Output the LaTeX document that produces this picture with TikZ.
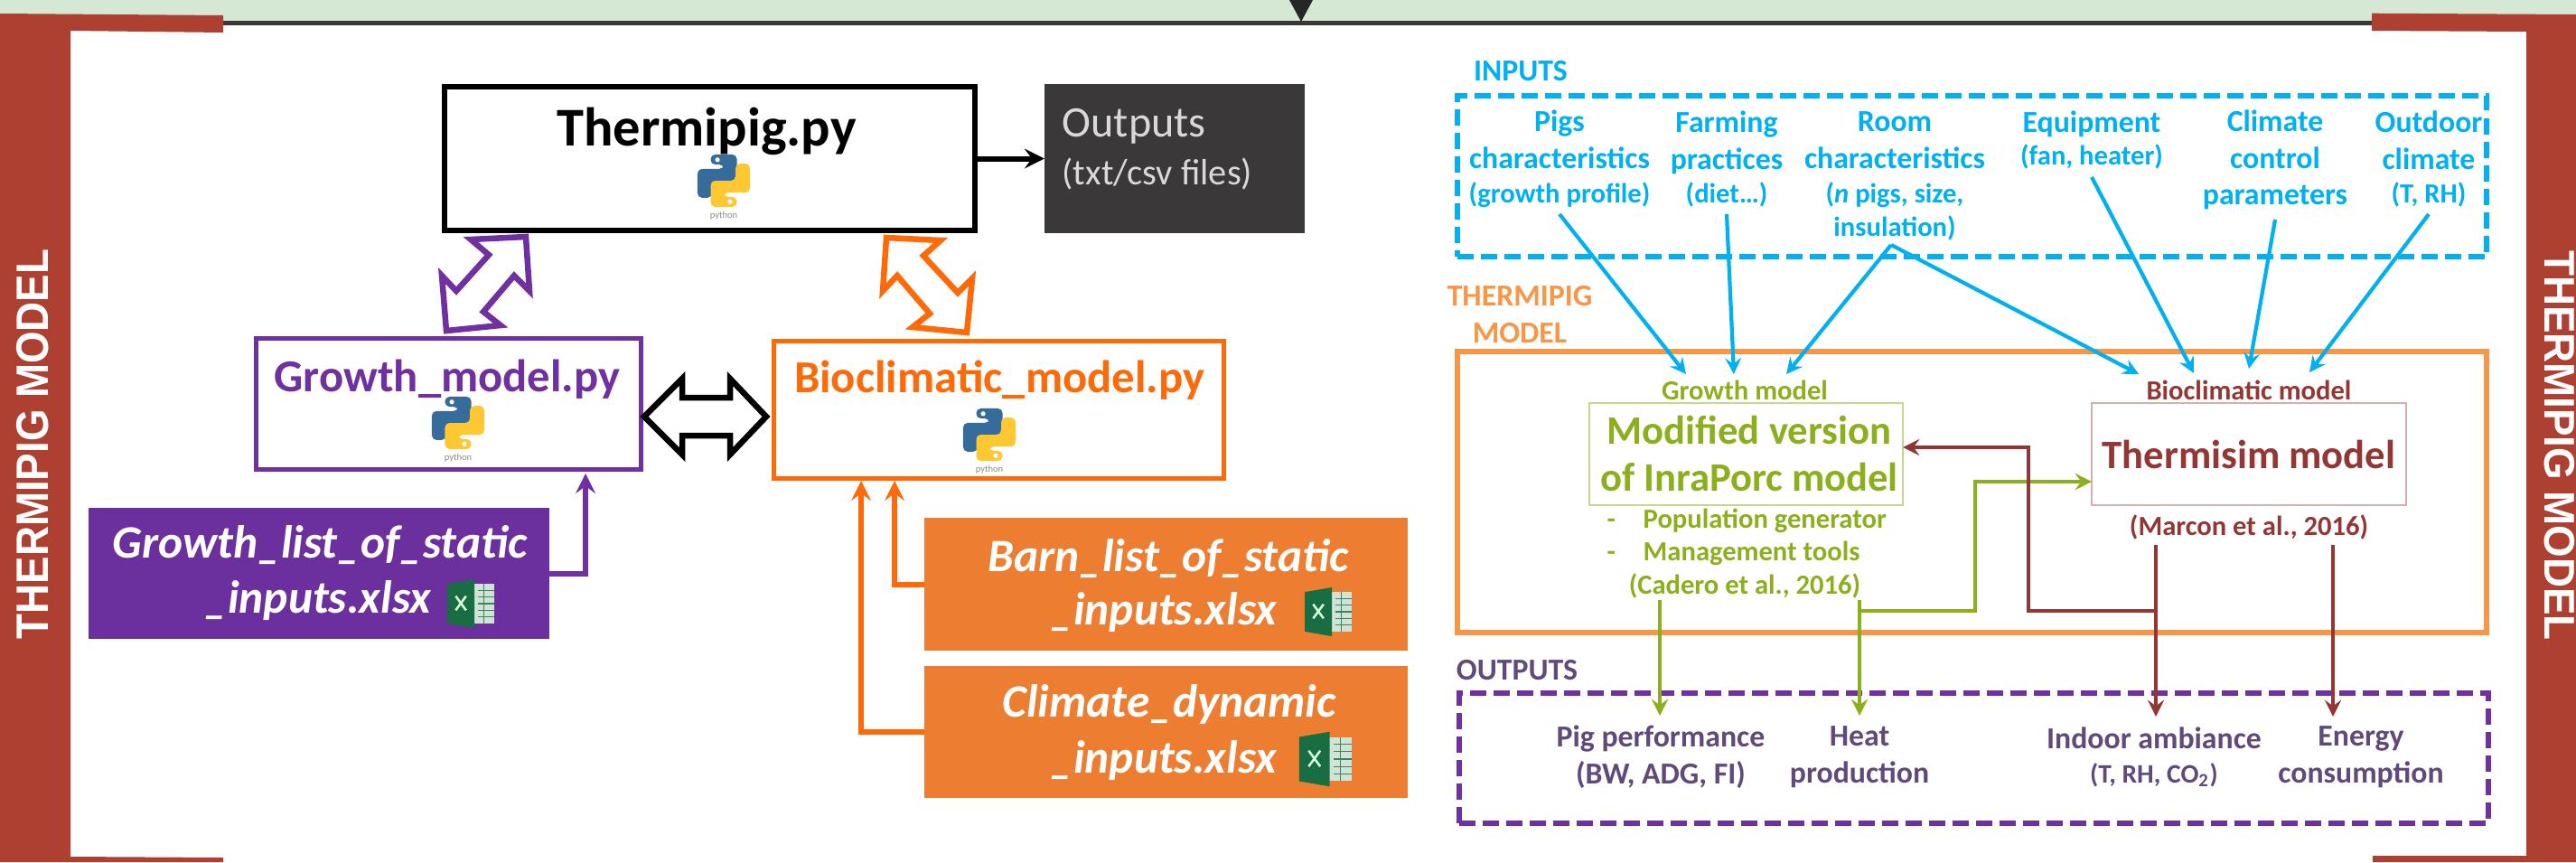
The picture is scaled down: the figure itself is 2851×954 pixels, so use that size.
\documentclass[tikz,border=0pt]{standalone}
\usepackage{fontspec}
\setmainfont{Carlito}
\newfontfamily\sidefont{Liberation Sans}

\definecolor{brick}{HTML}{AE4032}
\definecolor{header}{HTML}{D5E8D4}
\definecolor{charcoal}{HTML}{3A3838}
\definecolor{growthpurple}{HTML}{7030A0}
\definecolor{filepurple}{HTML}{6B2F9E}
\definecolor{bioorange}{HTML}{FF6A09}
\definecolor{fileorange}{HTML}{ED7D31}
\definecolor{skyblue}{HTML}{00B0F0}
\definecolor{modelorange}{HTML}{F79646}
\definecolor{leaf}{HTML}{8CAF1E}
\definecolor{wine}{HTML}{943634}
\definecolor{dusk}{HTML}{604A7B}

\tikzset{
    % boxes
    script-box/.style={
        draw,
        fill=white,
        line width=.055cm,
        outer sep=0pt,
        inner sep=0pt
    },
    file-box/.style={
        draw=none,
        outer sep=0pt,
        inner sep=0pt,
        text=white
    },
    group-box/.style={
        draw,
        line width=.06cm,
        outer sep=0pt,
        inner sep=0pt
    },
    core-box/.style={
        draw,
        line width=.02cm,
        outer sep=0pt,
        inner sep=0pt,
        minimum height=1.13cm
    },
    dash-line/.style={
        dash pattern=on .18cm off .08cm
    },
    % labels
    script-label/.style={
        font=\fontsize{14.4pt}{16pt}\selectfont\bfseries,
        inner sep=0pt
    },
    file-label/.style={
        font=\fontsize{14.6pt}{17.5pt}\selectfont\bfseries\itshape,
        text=white,
        inner sep=0pt
    },
    item-label/.style={
        font=\fontsize{9.6pt}{11.6pt}\selectfont\bfseries,
        align=center,
        inner sep=0pt
    },
    note-label/.style={
        font=\fontsize{8.7pt}{10.2pt}\selectfont\bfseries,
        align=center,
        inner sep=0pt
    },
    core-label/.style={
        font=\fontsize{12.7pt}{14.6pt}\selectfont\bfseries,
        align=center,
        inner sep=0pt
    },
    side-label/.style={
        font=\sidefont\fontsize{13pt}{15pt}\selectfont\bfseries,
        text=white,
        inner sep=0pt,
        transform shape
    },
    % arrows
    file-link/.style={
        ->,
        line width=.06cm
    },
    input-link/.style={
        ->,
        line width=.042cm,
        color=skyblue
    },
    output-link/.style={
        ->,
        line width=.045cm
    },
    block-arrow/.style={
        draw,
        fill=white,
        line width=.065cm,
        line join=miter
    },
    % icons
    python-logo/.pic={
        \begin{scope}[x=.29cm, y=.29cm]
            \fill [color={rgb,255:red,54;green,108;blue,156}, rounded corners=.05cm]
                (-.5,1) -- (.5,1) -- (.5,0) -- (-.45,0) -- (-.45,-.65) -- (-1,-.65) -- (-1,.45) -- (0,.45) -- (0,.62) -- (-.5,.62) -- cycle;
            \fill [color={rgb,255:red,255;green,199;blue,50}, rounded corners=.05cm]
                (.5,-1) -- (-.5,-1) -- (-.5,0) -- (.45,0) -- (.45,.65) -- (1,.65) -- (1,-.45) -- (0,-.45) -- (0,-.62) -- (.5,-.62) -- cycle;
            \fill [white] (-.24,.8) circle (.09);
            \fill [white] (.24,-.8) circle (.09);
            \node [font=\fontsize{3pt}{3pt}\selectfont, text=black!45, inner sep=0pt] (-name) at (0,-1.32) {python};
        \end{scope}
    },
    xlsx-icon/.pic={
        \begin{scope}[x=.52cm, y=.52cm]
            \fill [color={rgb,255:red,207;green,227;blue,214}] (.05,-.42) rectangle (.5,.42);
            \foreach \r in {-.28,-.14,0,.14,.28}
                \draw [color={rgb,255:red,60;green,130;blue,90}, line width=.012cm] (.16,\r) -- (.5,\r);
            \draw [color={rgb,255:red,60;green,130;blue,90}, line width=.012cm] (.28,-.42) -- (.28,.42);
            \fill [color={rgb,255:red,24;green,110;blue,66}] (-.5,-.42) -- (.08,-.52) -- (.08,.52) -- (-.5,.42) -- cycle;
            \draw [white!85!green, line width=.025cm] (-.32,-.14) -- (-.1,.16) (-.32,.16) -- (-.1,-.14);
        \end{scope}
    }
}

\begin{document}
\begin{tikzpicture}[x=.01cm, y=-.01cm, >=stealth]

        \useasboundingbox (0,0) rectangle (2851,954);

        % slide frame
        \fill [header] (0,0) rectangle (2851,24);
        \fill [charcoal] (0,23) rectangle (2851,28);
        \fill [black!85] (1427,0) -- (1453,0) -- (1440,24) -- cycle;
        \fill [brick] (0,15) -- (247,17) -- (247,36) -- (78,34) -- (78,948) -- (247,949) -- (247,954) -- (0,954) -- cycle;
        \fill [brick] (2851,16) -- (2625,14.7) -- (2625,34) -- (2796,35) -- (2796,947) -- (2626,947) -- (2626,954) -- (2851,954) -- cycle;
        \node [side-label, rotate=90, yscale=1.1] (side-left) at (36,491.5) {THERMIPIG MODEL};
        \node [side-label, rotate=-90, yscale=1.04] (side-right) at (2833,493) {THERMIPIG MODEL};

        % scripts
        \node [script-box, draw=black, line width=.06cm, minimum width=5.87cm, minimum height=1.59cm] (thermipig) at (785.5,175.5) {};
        \node [file-box, fill=charcoal, minimum width=2.88cm, minimum height=1.64cm] (outputs) at (1300,175.5) {};
        \node [script-box, draw=growthpurple, line width=.05cm, minimum width=4.26cm, minimum height=1.45cm] (growth) at (496.5,447) {};
        \node [script-box, draw=bioorange, minimum width=4.98cm, minimum height=1.52cm] (bioclimatic) at (1105.5,453.5) {};

        \node [script-label, font=\fontsize{17.2pt}{19pt}\selectfont\bfseries] (thermipig-name) at (782,145) {Thermipig.py};
        \node [script-label, text=growthpurple] (growth-name) at (495,420) {Growth\_model.py};
        \node [script-label, text=bioorange] (bioclimatic-name) at (1106,421) {Bioclimatic\_model.py};
        \node [anchor=west, inner sep=0pt, text=black!15, font=\fontsize{13.7pt}{15pt}\selectfont] (outputs-name) at (1175,140) {Outputs};
        \node [anchor=west, inner sep=0pt, text=black!15, font=\fontsize{11.5pt}{13pt}\selectfont] (outputs-note) at (1175,193) {(txt/csv files)};

        \pic at (801,200) {python-logo};
        \pic at (507,468) {python-logo};
        \pic at (1095,481) {python-logo};

        % files
        \node [file-box, fill=filepurple, minimum width=5.1cm, minimum height=1.45cm] (growth-file) at (353,634.5) {};
        \node [file-box, fill=fileorange, minimum width=5.35cm, minimum height=1.47cm] (barn-file) at (1290.5,646.5) {};
        \node [file-box, fill=fileorange, minimum width=5.35cm, minimum height=1.46cm] (climate-file) at (1290.5,810) {};

        \node [file-label] (growth-file-1) at (354,603) {Growth\_list\_of\_static};
        \node [file-label] (growth-file-2) at (352,665) {\_inputs.xlsx};
        \node [file-label] (barn-file-1) at (1293,618) {Barn\_list\_of\_static};
        \node [file-label] (barn-file-2) at (1288,678) {\_inputs.xlsx};
        \node [file-label] (climate-file-1) at (1294,780) {Climate\_dynamic};
        \node [file-label] (climate-file-2) at (1288,842) {\_inputs.xlsx};

        \pic at (521,668) {xlsx-icon};
        \pic at (1470,677) {xlsx-icon};
        \pic [scale=1.12] at (1467,840) {xlsx-icon};

        % links between scripts
        \draw [block-arrow, draw=growthpurple] (582,262) -- (521,265) -- (541,282) -- (505,322) -- (489,305) -- (494,366) -- (554,360) -- (535,345) -- (569,305) -- (586,322) -- cycle;
        \draw [block-arrow, draw=bioorange] (981,263) -- (1041,266) -- (1022,283) -- (1060,324) -- (1076,308) -- (1070,368) -- (1010,362) -- (1029,347) -- (993,305) -- (977,322) -- cycle;
        \draw [block-arrow, draw=black] (713,461) -- (755,419) -- (755,440) -- (808,440) -- (808,419) -- (848,461) -- (808,503) -- (808,482) -- (755,482) -- (755,503) -- cycle;
        \draw [file-link, black] (thermipig) -- (outputs);

        \coordinate (growth-in) at (648,524);
        \coordinate (barn-in) at (990,532);
        \coordinate (climate-in) at (953,532);
        \draw [file-link, growthpurple] (growth-file.east) -| (growth-in);
        \draw [file-link, bioorange] (barn-file.west) -| (barn-in);
        \draw [file-link, bioorange] (climate-file.west) -| (climate-in);

        % inputs
        \node [group-box, draw=skyblue, dash-line, minimum width=11.385cm, minimum height=1.78cm] (inputs-box) at (2182.75,195) {};
        \node [item-label, text=skyblue] (inputs-name) at (1683,79) {INPUTS};
        \node [item-label, text=skyblue] (pigs) at (1726,176) {Pigs\\characteristics\\[-.03cm]{\fontsize{8.7pt}{10pt}\selectfont (growth profile)}};
        \node [item-label, text=skyblue] (farming) at (1911,176) {Farming\\practices\\[-.03cm]{\fontsize{8.7pt}{10pt}\selectfont (diet…)}};
        \node [item-label, text=skyblue] (room) at (2097,195) {Room\\characteristics\\[-.03cm]{\fontsize{8.7pt}{10pt}\selectfont (\textit{n} pigs, size,}\\[-.03cm]{\fontsize{8.7pt}{10pt}\selectfont insulation)}};
        \node [item-label, text=skyblue] (equipment) at (2315,155) {Equipment\\[-.05cm]{\fontsize{8.7pt}{10pt}\selectfont (fan, heater)}};
        \node [item-label, text=skyblue] (control) at (2518,177) {Climate\\control\\parameters};
        \node [item-label, text=skyblue] (outdoor) at (2688,176) {Outdoor\\climate\\[-.03cm]{\fontsize{8.7pt}{10pt}\selectfont (T, RH)}};

        % model
        \node [group-box, draw=modelorange, minimum width=11.385cm, minimum height=3.105cm] (model-box) at (2182.75,544.75) {};
        \node [item-label, text=modelorange] (model-name) at (1682,348) {THERMIPIG\\MODEL};

        \node [core-box, draw=leaf!50, minimum width=3.47cm] (growth-core) at (1932.5,502.5) {};
        \node [core-box, draw=wine!40, minimum width=3.48cm] (bio-core) at (2489,502.5) {};

        \node [note-label, text=leaf] (growth-title) at (1931,432) {Growth model};
        \node [core-label, text=leaf] (growth-core-name) at (1936,502) {Modified version\\of InraPorc model};
        \node [note-label, text=leaf, align=left, anchor=west] (growth-tools) at (1778,594) {\makebox[.4cm][l]{-}Population generator\\\makebox[.4cm][l]{-}Management tools};
        \node [note-label, text=leaf] (growth-ref) at (1931,648) {(Cadero et al., 2016)};

        \node [note-label, text=wine] (bio-title) at (2489,432) {Bioclimatic model};
        \node [core-label, text=wine] (bio-core-name) at (2489,503) {Thermisim model};
        \node [note-label, text=wine] (bio-ref) at (2489,583) {(Marcon et al., 2016)};

        % outputs
        \node [group-box, draw=growthpurple, dash-line, minimum width=11.39cm, minimum height=1.44cm] (outputs-box) at (2184.5,839) {};
        \node [item-label, text=dusk] (outputs-title) at (1679,742) {OUTPUTS};
        \node [item-label, text=dusk] (performance) at (1838,838) {Pig performance\\(BW, ADG, FI)};
        \node [item-label, text=dusk] (heat) at (2058,838) {Heat\\production};
        \node [item-label, text=dusk] (ambiance) at (2384,838) {Indoor ambiance\\[-.03cm]{\fontsize{8.4pt}{10pt}\selectfont (T, RH, CO\textsubscript{2})}};
        \node [item-label, text=dusk] (energy) at (2613,838) {Energy\\consumption};

        % draw edges
        \coordinate (pigs-out) at (1726,237);
        \coordinate (farming-out) at (1911,237);
        \coordinate (room-out) at (2093,271);
        \coordinate (equipment-out) at (2315,196);
        \coordinate (control-out) at (2518,243);
        \coordinate (outdoor-out) at (2688,237);
        \coordinate (growth-in-1) at (1866,414);
        \coordinate (growth-in-2) at (1919,414);
        \coordinate (growth-in-3) at (1977,414);
        \coordinate (bio-in-1) at (2367,414);
        \coordinate (bio-in-2) at (2428,413);
        \coordinate (bio-in-3) at (2489,408);
        \coordinate (bio-in-4) at (2556,412);

        \foreach \a/\b in {pigs-out/growth-in-1, farming-out/growth-in-2, room-out/growth-in-3, room-out/bio-in-1, equipment-out/bio-in-2, control-out/bio-in-3, outdoor-out/bio-in-4}
            \draw [input-link] (\a) -- (\b);

        \coordinate (leaf-out-1) at (1837,664);
        \coordinate (leaf-out-2) at (2058,664);
        \coordinate (leaf-split) at (2058,676);
        \coordinate (leaf-turn) at (2186,533);
        \coordinate (bio-side) at (2315,533);
        \coordinate (pig-top) at (1837,792);
        \coordinate (heat-top) at (2058,792);

        \draw [output-link, leaf] (leaf-out-1) -- (pig-top);
        \draw [output-link, leaf] (leaf-out-2) -- (heat-top);
        \draw [output-link, leaf] (leaf-split) -| (leaf-turn) -- (bio-side);

        \coordinate (wine-out-1) at (2386,603);
        \coordinate (wine-out-2) at (2582,603);
        \coordinate (wine-split) at (2386,676);
        \coordinate (wine-turn) at (2245,495);
        \coordinate (growth-side) at (2106,495);
        \coordinate (ambiance-top) at (2386,793);
        \coordinate (energy-top) at (2582,793);

        \draw [output-link, wine] (wine-out-1) -- (ambiance-top);
        \draw [output-link, wine] (wine-out-2) -- (energy-top);
        \draw [output-link, wine] (wine-split) -| (wine-turn) -- (growth-side);

    \end{tikzpicture}
\end{document}
